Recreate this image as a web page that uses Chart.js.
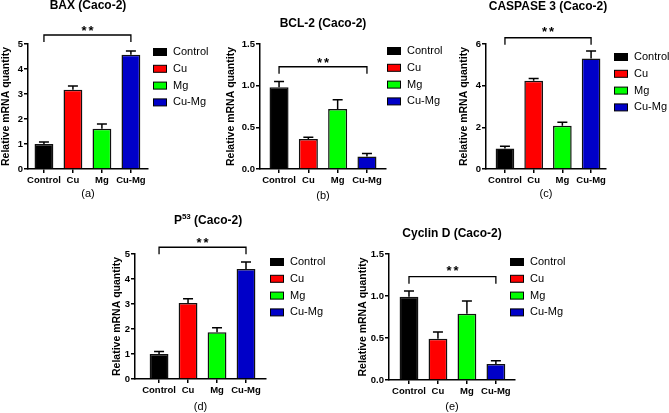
<!DOCTYPE html>
<html>
<head>
<meta charset="utf-8">
<script src="https://cdn.jsdelivr.net/npm/chart.js@4.4.1/dist/chart.umd.min.js"></script>
<style>
  html, body { margin: 0; padding: 0; background: #fff; }
  #figure { position: relative; width: 669px; height: 413px; overflow: hidden; background: #fff; }
  #figure canvas { position: absolute; left: 0; top: 0; }
</style>
</head>
<body>
<div id="figure">
  <canvas id="bax" width="669" height="413"></canvas>
  <canvas id="bcl2" width="669" height="413"></canvas>
  <canvas id="casp3" width="669" height="413"></canvas>
  <canvas id="p53" width="669" height="413"></canvas>
  <canvas id="cyclin" width="669" height="413"></canvas>
</div>
<script>
// groups and colours
const categories = ['Control', 'Cu', 'Mg', 'Cu-Mg'];
const barColors = ['#000000', '#ff0000', '#00ff00', '#0000c8'];

// relative mRNA quantity (mean) and error bar size
const baxMean = [1.00, 3.17, 1.61, 4.57];
const baxErr = [0.08, 0.15, 0.19, 0.15];
const bcl2Mean = [0.98, 0.36, 0.72, 0.15];
const bcl2Err = [0.07, 0.02, 0.11, 0.035];
const casp3Mean = [0.98, 4.24, 2.08, 5.31];
const casp3Err = [0.11, 0.11, 0.16, 0.35];
const p53Mean = [1.00, 3.04, 1.87, 4.40];
const p53Err = [0.10, 0.17, 0.18, 0.28];
const cyclinMean = [0.99, 0.49, 0.79, 0.19];
const cyclinErr = [0.07, 0.08, 0.15, 0.04];

// significance bracket height (in data units) for each panel
const bracketLevels = [5.36, 1.227, 6.3, 5.27, 1.23];

Chart.defaults.font.family = '"Liberation Sans", Arial, sans-serif';
Chart.defaults.color = '#000';

// where each panel sits on the page
const panels = [
  { id: 'bax', title: 'BAX (Caco-2)', tag: '(a)', mean: baxMean, err: baxErr, yMax: 5, yStep: 1, dec: 0,
    axisX: 28, right: 148, top: 44, bottom: 169, xMin: -0.55, xMax: 3.59, yTitleX: 5, tagY: 194,
    titleX: 88, titleY: 6, starY: 28, legendX: 153, legendY: 52 },
  { id: 'bcl2', title: 'BCL-2 (Caco-2)', tag: '(b)', mean: bcl2Mean, err: bcl2Err, yMax: 1.5, yStep: 0.5, dec: 1,
    axisX: 260, right: 386, top: 44, bottom: 169, xMin: -0.65, xMax: 3.65, yTitleX: 231, tagY: 196,
    titleX: 323, titleY: 24, starY: 60, legendX: 387, legendY: 51 },
  { id: 'casp3', title: 'CASPASE 3 (Caco-2)', tag: '(c)', mean: casp3Mean, err: casp3Err, yMax: 6, yStep: 2, dec: 0,
    axisX: 486, right: 606, top: 44, bottom: 169, xMin: -0.66, xMax: 3.52, yTitleX: 464, tagY: 194,
    titleX: 548, titleY: 7, starY: 29, legendX: 614, legendY: 57 },
  { id: 'p53', title: 'P', sup: '53', titleRest: ' (Caco-2)', tag: '(d)', mean: p53Mean, err: p53Err, yMax: 5, yStep: 1, dec: 0,
    axisX: 135, right: 266, top: 254, bottom: 379, xMin: -0.83, xMax: 3.69, yTitleX: 117, tagY: 407,
    titleX: 208, titleY: 221, starY: 240, legendX: 270, legendY: 262 },
  { id: 'cyclin', title: 'Cyclin D (Caco-2)', tag: '(e)', mean: cyclinMean, err: cyclinErr, yMax: 1.5, yStep: 0.5, dec: 1,
    axisX: 389, right: 515, top: 254, bottom: 380, xMin: -0.69, xMax: 3.66, yTitleX: 363, tagY: 407,
    titleX: 452, titleY: 234, starY: 268, legendX: 510, legendY: 262 }
];

function makeExtras(p, bracket) {
  return {
    id: 'extras',
    afterDatasetsDraw(chart) {
      const { ctx, scales: { y } } = chart;
      const meta = chart.getDatasetMeta(0);
      ctx.save();
      ctx.strokeStyle = '#000';
      ctx.lineWidth = 1.5;
      meta.data.forEach((bar, i) => {
        const top = y.getPixelForValue(p.mean[i] + p.err[i]);
        ctx.beginPath();
        ctx.moveTo(bar.x, bar.y);
        ctx.lineTo(bar.x, top);
        ctx.moveTo(bar.x - 5, top);
        ctx.lineTo(bar.x + 5, top);
        ctx.stroke();
      });
      ctx.restore();
    },
    afterDraw(chart) {
      const { ctx, scales: { x, y } } = chart;
      ctx.save();
      ctx.fillStyle = '#000';
      ctx.strokeStyle = '#000';

      // title
      ctx.textBaseline = 'middle';
      ctx.font = 'bold 12px "Liberation Sans", Arial, sans-serif';
      if (p.sup) {
        const w1 = ctx.measureText(p.title).width;
        const w3 = ctx.measureText(p.titleRest).width;
        ctx.font = 'bold 8px "Liberation Sans", Arial, sans-serif';
        const w2 = ctx.measureText(p.sup).width;
        let cx = p.titleX - (w1 + w2 + w3) / 2;
        ctx.textAlign = 'left';
        ctx.font = 'bold 12px "Liberation Sans", Arial, sans-serif';
        ctx.fillText(p.title, cx, p.titleY);
        ctx.font = 'bold 8px "Liberation Sans", Arial, sans-serif';
        ctx.fillText(p.sup, cx + w1, p.titleY - 4);
        ctx.font = 'bold 12px "Liberation Sans", Arial, sans-serif';
        ctx.fillText(p.titleRest, cx + w1 + w2, p.titleY);
      } else {
        ctx.textAlign = 'center';
        ctx.fillText(p.title, p.titleX, p.titleY);
      }

      // significance bracket
      const by = y.getPixelForValue(bracket);
      const x1 = x.getPixelForValue(0);
      const x2 = x.getPixelForValue(3);
      ctx.lineWidth = 1.3;
      ctx.beginPath();
      ctx.moveTo(x1, by + 7);
      ctx.lineTo(x1, by);
      ctx.lineTo(x2, by);
      ctx.lineTo(x2, by + 7);
      ctx.stroke();
      ctx.font = 'bold 13px "Liberation Sans", Arial, sans-serif';
      ctx.textAlign = 'center';
      ctx.textBaseline = 'alphabetic';
      const mid = (x1 + x2) / 2;
      ctx.fillText('*', mid - 3.5, p.starY + 7.4);
      ctx.fillText('*', mid + 3.5, p.starY + 7.4);

      // legend
      ctx.font = '11px "Liberation Sans", Arial, sans-serif';
      ctx.textAlign = 'left';
      ctx.textBaseline = 'middle';
      ctx.lineWidth = 1;
      categories.forEach((c, i) => {
        const ry = p.legendY + i * 16.8;
        ctx.fillStyle = barColors[i];
        ctx.fillRect(p.legendX, ry - 3.5, 14, 7);
        ctx.strokeRect(p.legendX + 0.5, ry - 3.5, 13, 7);
        ctx.fillStyle = '#000';
        ctx.fillText(c, p.legendX + 20, ry);
      });
      ctx.restore();
    }
  };
}

panels.forEach((p, k) => {
  const padLeft = Math.max(0, p.yTitleX - 6.3);
  const yWidth = p.axisX - padLeft;
  const xHeight = p.tagY - p.bottom + 6.6;
  new Chart(document.getElementById(p.id), {
    type: 'bar',
    data: {
      datasets: [{
        data: categories.map((c, i) => ({ x: i, y: p.mean[i] })),
        backgroundColor: barColors,
        borderColor: '#111',
        borderWidth: 1.5,
        barPercentage: 0.65,
        categoryPercentage: 1
      }]
    },
    options: {
      responsive: false,
      animation: false,
      layout: {
        padding: { left: padLeft, top: p.top, right: 669 - p.right, bottom: 413 - p.bottom - xHeight }
      },
      plugins: { legend: { display: false }, tooltip: { enabled: false } },
      scales: {
        x: {
          type: 'linear',
          min: p.xMin,
          max: p.xMax,
          offset: false,
          grid: { offset: false, drawOnChartArea: false, tickLength: 4, color: '#000', lineWidth: 1.5 },
          border: { color: '#000', width: 1.5 },
          ticks: {
            autoSkip: false, maxRotation: 0, minRotation: 0, padding: 2,
            font: { size: 9.5, weight: 'bold' }, color: '#000',
            callback: v => categories[v]
          },
          afterBuildTicks: s => { s.ticks = categories.map((c, i) => ({ value: i })); },
          afterFit: s => { s.height = xHeight; },
          title: { display: true, text: p.tag, font: { size: 11 }, color: '#000', padding: 0 }
        },
        y: {
          min: 0,
          max: p.yMax,
          grid: { drawOnChartArea: false, tickLength: 4, color: '#000', lineWidth: 1.5 },
          border: { color: '#000', width: 1.5 },
          ticks: {
            stepSize: p.yStep, padding: 1,
            font: { size: 9.5, weight: 'bold' }, color: '#000',
            callback: v => v.toFixed(p.dec)
          },
          afterFit: s => { s.width = yWidth; },
          title: { display: true, text: 'Relative mRNA quantity', font: { size: 10.5, weight: 'bold' }, color: '#000', padding: 0 }
        }
      }
    },
    plugins: [makeExtras(p, bracketLevels[k])]
  });
});
</script>
</body>
</html>
